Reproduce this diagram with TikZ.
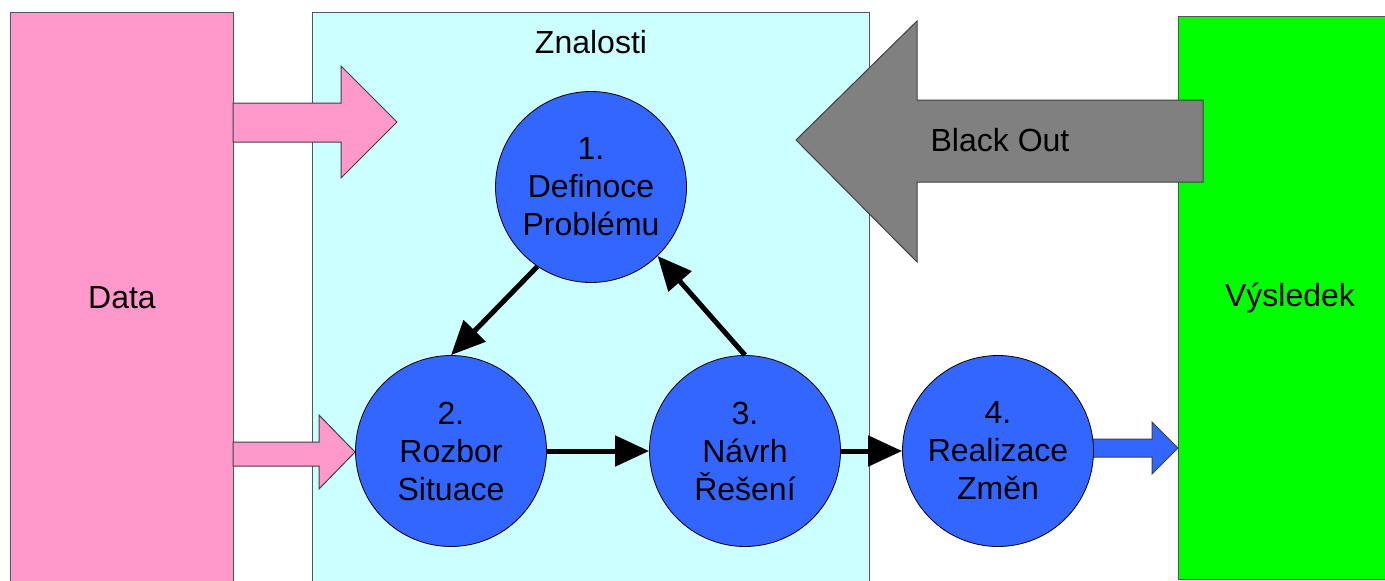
\documentclass[tikz,border=0pt]{standalone}
\usepackage{fontspec}
\setmainfont{Liberation Sans}
\usetikzlibrary{arrows.meta}
\definecolor{datapink}{HTML}{FF99CC}
\definecolor{knowcyan}{HTML}{CCFFFF}
\definecolor{resgreen}{HTML}{00FF00}
\definecolor{stepblue}{HTML}{3366FF}
\definecolor{outgray}{HTML}{808080}
\definecolor{rim}{HTML}{555555}

\begin{document}
\begin{tikzpicture}[x=1pt,y=-1pt,
  panel/.style={draw=rim, line width=1.2pt, anchor=north west, inner sep=0pt},
  stage/.style={circle, draw=black, line width=0.8pt, fill=stepblue,
    minimum size=191pt, inner sep=0pt, align=center,
    font=\fontsize{32}{38}\selectfont},
  bigtext/.style={font=\fontsize{32}{38}\selectfont, inner sep=0pt},
  flow/.style={line width=5pt, -{Triangle[length=34pt,width=30pt]}},
  blockarrow/.style={draw=black!75, line width=1pt, line join=miter}
]
\clip (0,0) rectangle (1385,581);
\fill[white] (0,0) rectangle (1385,581);

% three background panels
\node[panel, fill=datapink, minimum width=223pt, minimum height=620pt] (data) at (10,12) {};
\node[panel, fill=knowcyan, minimum width=557pt, minimum height=620pt] (know) at (312,12) {};
\node[panel, fill=resgreen, minimum width=230pt, minimum height=563pt] (result) at (1178,16) {};

\node[bigtext] (datatxt) at (122,298) {Data};
\node[bigtext] (knowtxt) at (591,42) {Znalosti};
\node[bigtext] (restxt) at (1290,298) {Výsledek};

% block arrows from the data panel
\draw[blockarrow, fill=datapink] (233,103) -- (341,103) -- (341,66) -- (397,122)
  -- (341,178) -- (341,142) -- (233,142) -- cycle;
\draw[blockarrow, fill=datapink] (233,442) -- (319,442) -- (319,415) -- (355,452)
  -- (319,489) -- (319,466) -- (233,466) -- cycle;

% black-out arrow from the result panel
\draw[blockarrow, fill=outgray] (1203,100) -- (917,100) -- (917,21) -- (796,140)
  -- (917,262) -- (917,182) -- (1203,182) -- cycle;
\node[bigtext] (blackout) at (1000,140) {Black Out};

% output arrow into the result panel
\draw[blockarrow, fill=stepblue] (1085,439) -- (1152,439) -- (1152,422) -- (1178,448)
  -- (1152,474) -- (1152,457) -- (1085,457) -- cycle;

% process stages
\node[stage] (s1) at (591,187) {1.\\Definoce\\Problému};
\node[stage] (s2) at (451,451) {2.\\Rozbor\\Situace};
\node[stage] (s3) at (745,451) {3.\\Návrh\\Řešení};
\node[stage] (s4) at (998,451) {4.\\Realizace\\Změn};

\draw[flow] (s1.236) -- (s2.90);
\draw[flow] (s2.east) -- (s3.west);
\draw[flow] (s3.90) -- (s1.314);
\draw[flow] (s3.east) -- (s4.west);
\end{tikzpicture}
\end{document}
